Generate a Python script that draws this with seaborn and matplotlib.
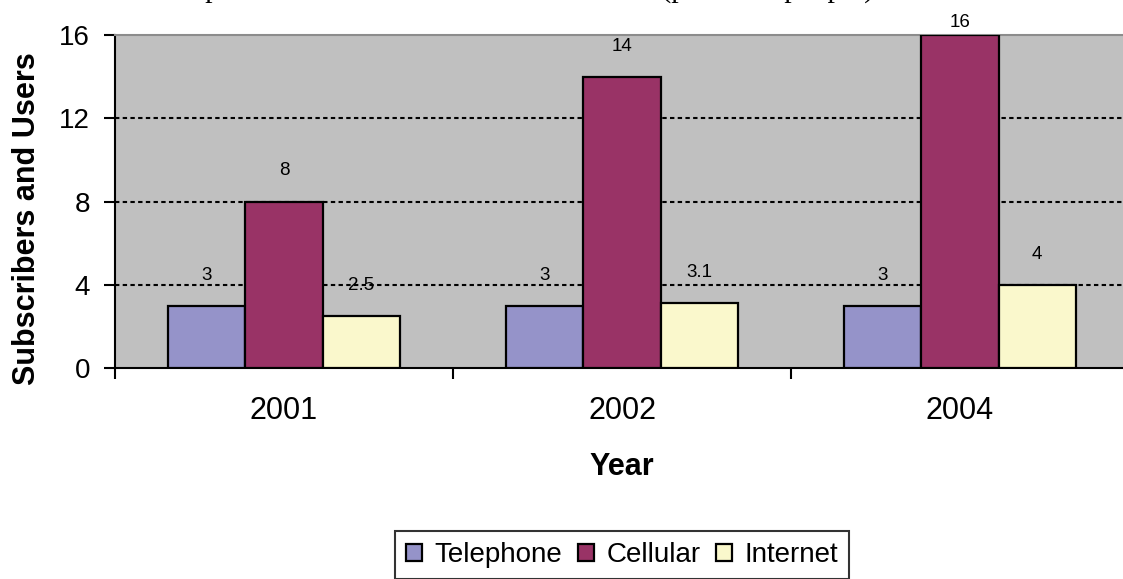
import matplotlib
matplotlib.use("Agg")
import matplotlib.pyplot as plt
import seaborn as sns
import pandas as pd

# Subscribers and users per year
years = ["2001", "2002", "2004"]
series = ["Telephone", "Cellular", "Internet"]
telephone = [3, 3, 3]
cellular = [8, 14, 16]
internet = [2.5, 3.1, 4]
value_labels = {
    "Telephone": ["3", "3", "3"],
    "Cellular": ["8", "14", "16"],
    "Internet": ["2.5", "3.1", "4"],
}
y_ticks = [0, 4, 8, 12, 16]
title_text = "Telephone Subscribers and Internet Users (per 1000 people)"

colors = {"Telephone": "#9593C9", "Cellular": "#993366", "Internet": "#FAF8CC"}

df = pd.DataFrame({
    "Year": years * 3,
    "Series": [s for s in series for _ in years],
    "Value": telephone + cellular + internet,
})

sns.set_theme(style="white")
plt.rcParams["font.family"] = ["Liberation Sans", "DejaVu Sans"]
for key in ["text.color", "axes.labelcolor", "xtick.color", "ytick.color",
            "xtick.labelcolor", "ytick.labelcolor"]:
    plt.rcParams[key] = "black"

W, H = 1123, 579
fig = plt.figure(figsize=(W / 100, H / 100), dpi=100)
ax = fig.add_axes([115 / W, 1 - 368 / H, 1014 / W, 333 / H])
ax.set_facecolor("#C0C0C0")

sns.barplot(data=df, x="Year", y="Value", hue="Series", order=years,
            hue_order=series, palette=colors, width=0.684, gap=0,
            edgecolor="black", linewidth=1.6, saturation=1, ax=ax, zorder=3)

ax.set_ylim(y_ticks[0], y_ticks[-1])
ax.set_xlim(-0.5, len(years) - 0.5)
ax.set_yticks(y_ticks)
ax.set_yticklabels([str(t) for t in y_ticks])

# dashed reference lines at the inner ticks
for t in y_ticks[1:-1]:
    ax.axhline(t, color="black", lw=1.5, ls=(0, (2.1, 1.6)), zorder=1)

# value labels above each bar
ymax = y_ticks[-1]
for container, name in zip(ax.containers, series):
    for bar, txt in zip(container, value_labels[name]):
        v = bar.get_height()
        off = 22 if v < ymax else 9
        ax.annotate(txt, (bar.get_x() + bar.get_width() / 2, v),
                    xytext=(0, off), textcoords="offset points",
                    ha="center", va="center", fontsize=13.5, color="black",
                    annotation_clip=False, zorder=5)

# spines
for side in ["left", "bottom"]:
    ax.spines[side].set_color("black")
    ax.spines[side].set_linewidth(1.5)
ax.spines["top"].set_color("#8C8C8C")
ax.spines["top"].set_linewidth(1.5)
ax.spines["right"].set_visible(False)

# category separators on the x axis
ax.set_xticks([i - 0.5 for i in range(len(years) + 1)], minor=True)
ax.tick_params(axis="x", which="minor", direction="out", length=8, width=1.5,
               color="black", bottom=True)
ax.tick_params(axis="x", which="major", length=0, pad=20, labelsize=22)
ax.tick_params(axis="y", which="major", direction="out", length=8, width=1.5,
               color="black", left=True, pad=10, labelsize=20)

ax.set_xlabel("Year", fontsize=22, fontweight="bold", labelpad=19)
ax.set_ylabel("Subscribers and Users", fontsize=22, fontweight="bold")
ax.yaxis.set_label_coords(-0.072, 0.45)

# legend below the chart
handles, labels = ax.get_legend_handles_labels()
ax.get_legend().remove()
leg = fig.legend(handles, labels, loc="center", bbox_to_anchor=(0.554, 0.0415),
                 ncol=3, frameon=True, fancybox=False, fontsize=20,
                 handlelength=0.58, handleheight=0.58, handletextpad=0.45,
                 columnspacing=0.55, borderpad=0.4, borderaxespad=0)
leg.get_frame().set_edgecolor("black")
leg.get_frame().set_linewidth(1.5)

# title sitting at the top edge of the canvas
fig.text(154 / W, 1 + 3 / H, title_text, ha="left", va="baseline",
         fontsize=21.6, family=["Liberation Serif", "DejaVu Serif"])

fig.savefig("out.png", dpi=100)
